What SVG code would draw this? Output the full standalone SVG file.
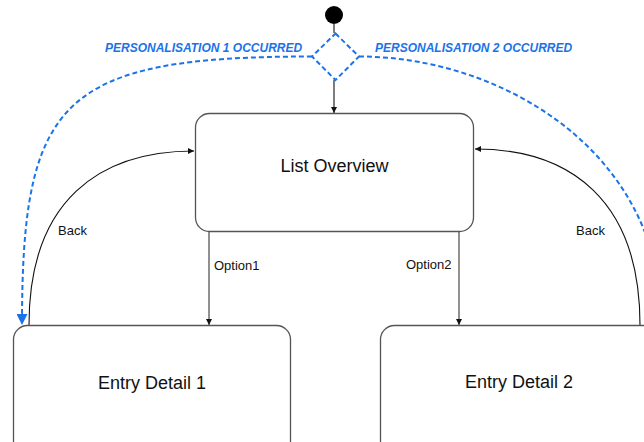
<svg xmlns="http://www.w3.org/2000/svg" width="644" height="442" viewBox="0 0 644 442">
  <style>
    .state { fill: #ffffff; stroke: #555555; stroke-width: 1.3; }
    .state-label { font-family: "Liberation Sans", Arial, sans-serif; font-size: 18px; fill: #111111; text-anchor: middle; }
    .edge { fill: none; stroke: #111111; stroke-width: 1.1; }
    .edge-grey { fill: none; stroke: #555555; stroke-width: 1.3; }
    .edge-label { font-family: "Liberation Sans", Arial, sans-serif; font-size: 13px; fill: #111111; }
    .dashed { fill: none; stroke: #1a73e8; stroke-width: 2; stroke-dasharray: 5 3; }
    .event { font-family: "Liberation Sans", Arial, sans-serif; font-size: 12px; font-weight: bold; font-style: italic; fill: #1a73e8; }
  </style>
  <defs>
    <marker id="arrow" viewBox="0 0 10 10" refX="10" refY="5" markerWidth="6" markerHeight="6" markerUnits="userSpaceOnUse" orient="auto">
      <path d="M0,0 L10,5 L0,10 Z" fill="#111111"/>
    </marker>
    <marker id="arrow-blue" viewBox="0 0 10 10" refX="10" refY="5" markerWidth="15" markerHeight="11" markerUnits="userSpaceOnUse" orient="auto">
      <path d="M0,0 L10,5 L0,10 Z" fill="#1a73e8"/>
    </marker>
  </defs>

  <!-- transitions -->
  <g id="connectors">
    <line class="edge" x1="334" y1="24" x2="334" y2="33"/>
    <line class="edge" x1="334" y1="80" x2="334" y2="113" marker-end="url(#arrow)"/>
    <line class="edge-grey" x1="209" y1="232" x2="209" y2="325" marker-end="url(#arrow)"/>
    <line class="edge-grey" x1="459" y1="232" x2="459" y2="325" marker-end="url(#arrow)"/>
    <path class="edge" d="M29,325 C29,200 100,151 194,151" marker-end="url(#arrow)"/>
    <path class="edge" d="M640,325 C640,200 570,149 475,149" marker-end="url(#arrow)"/>
    <path class="dashed" d="M312,56.5 C60,56.5 22,100 22,325" marker-end="url(#arrow-blue)"/>
    <path class="dashed" d="M359,56.5 C500,56.5 662,150 662,325"/>
    <text class="edge-label" x="58" y="235">Back</text>
    <text class="edge-label" x="576" y="235">Back</text>
    <text class="edge-label" x="214" y="270">Option1</text>
    <text class="edge-label" x="406" y="269">Option2</text>
    <text class="event" x="105" y="52">PERSONALISATION 1 OCCURRED</text>
    <text class="event" x="375" y="52">PERSONALISATION 2 OCCURRED</text>
  </g>

  <g id="start">
    <circle cx="334" cy="15" r="9" fill="#000000"/>
  </g>

  <g id="choice">
    <path class="dashed" fill="#ffffff" style="fill:#ffffff" d="M335.5,33.5 L359,56.5 L335.5,80 L312,56.5 Z"/>
  </g>

  <g id="list-overview">
    <rect class="state" x="195.5" y="113.5" width="278" height="118" rx="14" ry="14"/>
    <text class="state-label" x="334.5" y="172">List Overview</text>
  </g>

  <g id="entry-detail-1">
    <rect class="state" x="13.5" y="325.5" width="277" height="130" rx="14" ry="14"/>
    <text class="state-label" x="152" y="389">Entry Detail 1</text>
  </g>

  <g id="entry-detail-2">
    <rect class="state" x="380.5" y="325.5" width="278" height="130" rx="14" ry="14"/>
    <text class="state-label" x="519" y="388">Entry Detail 2</text>
  </g>
</svg>
